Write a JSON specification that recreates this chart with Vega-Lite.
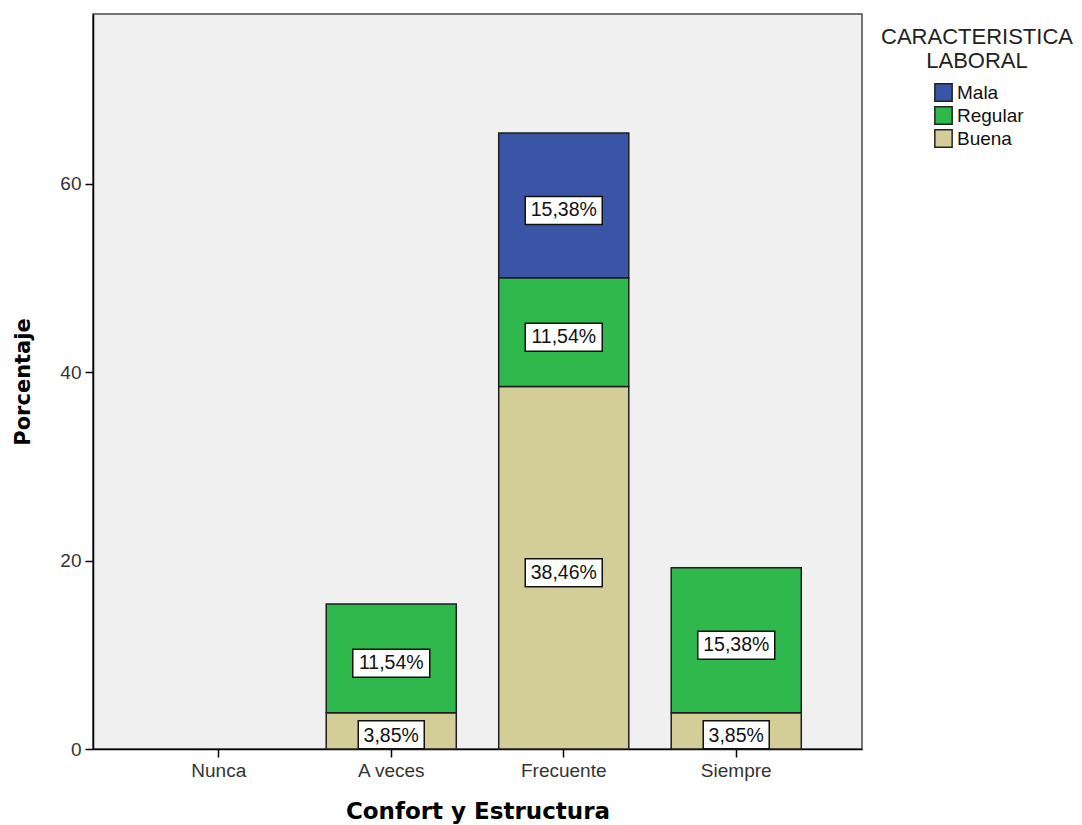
{
  "$schema": "https://vega.github.io/schema/vega-lite/v6.json",
  "width": 769,
  "height": 735,
  "autosize": "none",
  "padding": {"left": 93, "top": 14, "right": 220, "bottom": 76},
  "background": "white",
  "data": {
    "values": [
      {"confort": "A veces", "caracteristica": "Buena", "porcentaje": 3.85},
      {"confort": "A veces", "caracteristica": "Regular", "porcentaje": 11.54},
      {"confort": "Frecuente", "caracteristica": "Buena", "porcentaje": 38.46},
      {"confort": "Frecuente", "caracteristica": "Regular", "porcentaje": 11.54},
      {"confort": "Frecuente", "caracteristica": "Mala", "porcentaje": 15.38},
      {"confort": "Siempre", "caracteristica": "Buena", "porcentaje": 3.85},
      {"confort": "Siempre", "caracteristica": "Regular", "porcentaje": 15.38}
    ]
  },
  "transform": [
    {"calculate": "indexof(['Buena','Regular','Mala'], datum.caracteristica)", "as": "orden"},
    {"stack": "porcentaje", "groupby": ["confort"], "sort": [{"field": "orden", "order": "ascending"}], "as": ["p0", "p1"]},
    {"calculate": "(datum.p0 + datum.p1) / 2", "as": "medio"},
    {"calculate": "replace(format(datum.porcentaje, '.2f'), '.', ',') + '%'", "as": "etiqueta"}
  ],
  "encoding": {
    "x": {
      "field": "confort",
      "type": "nominal",
      "title": "Confort y Estructura",
      "scale": {"domain": ["Nunca", "A veces", "Frecuente", "Siempre"], "paddingInner": 0.246, "paddingOuter": 0.352},
      "axis": {"labelAngle": 0}
    }
  },
  "layer": [
    {
      "mark": {"type": "bar", "stroke": "#1e1e1e", "strokeWidth": 1.5},
      "encoding": {
        "y": {
          "field": "p1",
          "type": "quantitative",
          "title": "Porcentaje",
          "scale": {"domain": [0, 78], "nice": false},
          "axis": {"values": [0, 20, 40, 60], "grid": false}
        },
        "y2": {"field": "p0"},
        "color": {
          "field": "caracteristica",
          "type": "nominal",
          "scale": {"domain": ["Mala", "Regular", "Buena"], "range": ["#3a55a6", "#2fb84b", "#d3ce98"]},
          "legend": {
            "title": ["CARACTERISTICA", "LABORAL"],
            "orient": "none",
            "legendX": 788,
            "legendY": 13,
            "padding": 0,
            "titleAnchor": "middle",
            "titleAlign": "center",
            "titleFont": "Liberation Sans",
            "titleFontSize": 22,
            "titleFontWeight": "normal",
            "titleColor": "#222222",
            "titleLimit": 0,
            "titleLineHeight": 24,
            "titlePadding": 10,
            "symbolType": "square",
            "symbolSize": 300,
            "symbolStrokeColor": "#222222",
            "symbolStrokeWidth": 1.5,
            "symbolOpacity": 1,
            "symbolOffset": 3,
            "labelOffset": 4,
            "labelFont": "Liberation Sans",
            "labelFontSize": 19,
            "labelColor": "#111111",
            "rowPadding": -2
          }
        }
      }
    },
    {
      "transform": [{"filter": "datum.porcentaje >= 10"}],
      "mark": {"type": "rect", "width": 77, "height": 28, "yOffset": 5, "fill": "white", "stroke": "#111111", "strokeWidth": 1.5},
      "encoding": {"y": {"field": "medio", "type": "quantitative"}}
    },
    {
      "transform": [{"filter": "datum.porcentaje < 10"}],
      "mark": {"type": "rect", "width": 66, "height": 28, "yOffset": 4, "fill": "white", "stroke": "#111111", "strokeWidth": 1.5},
      "encoding": {"y": {"field": "medio", "type": "quantitative"}}
    },
    {
      "mark": {"type": "text", "font": "Liberation Sans", "fontSize": 19.5, "color": "#111111", "align": "center", "baseline": "middle", "dy": 5},
      "encoding": {
        "y": {"field": "medio", "type": "quantitative"},
        "text": {"field": "etiqueta"}
      }
    }
  ],
  "config": {
    "view": {"fill": "#f0f0f0", "stroke": "#4a4a4a", "strokeWidth": 1.5},
    "axis": {
      "labelFont": "Liberation Sans",
      "labelFontSize": 19,
      "labelColor": "#333333",
      "tickColor": "#000000",
      "tickSize": 8,
      "tickWidth": 1.5,
      "domainColor": "#000000",
      "domainWidth": 1.5,
      "titleFont": "DejaVu Sans",
      "titleFontWeight": "bold",
      "titleColor": "#000000"
    },
    "axisY": {"titleFontSize": 21, "titlePadding": 26, "labelPadding": 4},
    "axisX": {"titleFontSize": 23, "titlePadding": 20, "labelPadding": 4}
  }
}
